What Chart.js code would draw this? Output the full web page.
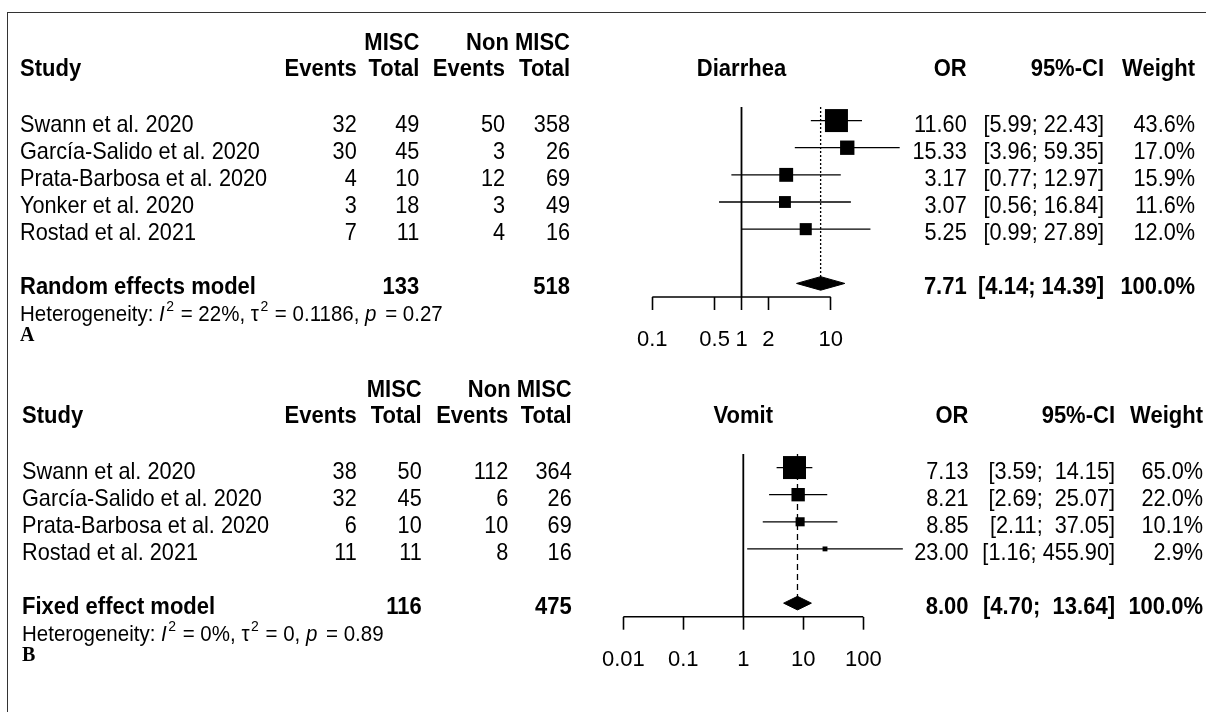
<!DOCTYPE html>
<html>
<head>
<meta charset="utf-8">
<script src="https://cdn.jsdelivr.net/npm/chart.js@4.4.1/dist/chart.umd.min.js"></script>
<style>
  body { margin: 0; background: #fff; }
  #wrap { position: relative; width: 1206px; height: 712px; overflow: hidden; }
  #frame { position: absolute; left: 7px; top: 12px; width: 1210px; height: 710px;
           border-top: 1px solid #333; border-left: 1px solid #333; }
  canvas { position: absolute; left: 0; }
  #chartA { top: 0; }
  #chartB { top: 356px; }
</style>
</head>
<body>
<div id="wrap">
  <div id="frame"></div>
  <canvas id="chartA" width="1206" height="356"></canvas>
  <canvas id="chartB" width="1206" height="356"></canvas>
</div>
<script>
// ---- panel A : diarrhea ----
var studiesA = ["Swann et al. 2020", "García-Salido et al. 2020", "Prata-Barbosa et al. 2020", "Yonker et al. 2020", "Rostad et al. 2021"];
var miscEventsA = [32, 30, 4, 3, 7];
var miscTotalA = [49, 45, 10, 18, 11];
var nonEventsA = [50, 3, 12, 3, 4];
var nonTotalA = [358, 26, 69, 49, 16];
var orA = [11.60, 15.33, 3.17, 3.07, 5.25];
var lowerA = [5.99, 3.96, 0.77, 0.56, 0.99];
var upperA = [22.43, 59.35, 12.97, 16.84, 27.89];
var weightA = [43.6, 17.0, 15.9, 11.6, 12.0];
var pooledA = [7.71, 4.14, 14.39];   // OR, lower, upper
var totalsA = [133, 518];
var ticksA = [0.1, 0.5, 1, 2, 10];
var hetA = ["22%", "0.1186", "0.27"]; // I2, tau2, p

// ---- panel B : vomit ----
var studiesB = ["Swann et al. 2020", "García-Salido et al. 2020", "Prata-Barbosa et al. 2020", "Rostad et al. 2021"];
var miscEventsB = [38, 32, 6, 11];
var miscTotalB = [50, 45, 10, 11];
var nonEventsB = [112, 6, 10, 8];
var nonTotalB = [364, 26, 69, 16];
var orB = [7.13, 8.21, 8.85, 23.00];
var lowerB = [3.59, 2.69, 2.11, 1.16];
var upperB = [14.15, 25.07, 37.05, 455.90];
var weightB = [65.0, 22.0, 10.1, 2.9];
var pooledB = [8.00, 4.70, 13.64];
var totalsB = [116, 475];
var ticksB = [0.01, 0.1, 1, 10, 100];
var hetB = ["0%", "0", "0.89"];

var FONT = '"Liberation Sans", Arial, sans-serif';
var SERIF = '"Liberation Serif", "Times New Roman", serif';
var STRETCH = 1.06; // reference glyphs are a bit taller than wide

function ciText(lo, hi, w) {
    return '[' + lo.toFixed(2) + '; ' + hi.toFixed(2).padStart(w, ' ') + ']';
}

function tablePlugin(p, L) {
    return {
        id: 'forestTable',
        afterDraw: function(chart) {
            var ctx = chart.ctx;
            var ys = chart.scales.y, xs = chart.scales.x;
            var n = p.studies.length;
            var row = function(i) { return ys.getPixelForValue(i); };
            var put = function(t, x, y, align) {
                ctx.save();
                ctx.textAlign = align;
                ctx.translate(x, y);
                ctx.scale(1, STRETCH);
                ctx.fillText(t, 0, 0);
                ctx.restore();
            };
            var w = Math.max.apply(null, p.upper.concat([p.pooled[2]]).map(function(v) { return v.toFixed(2).length; }));
            ctx.save();
            ctx.fillStyle = '#000';
            ctx.textBaseline = 'alphabetic';

            // headers
            var hy = row(0) - 44.5, gy = row(0) - 70.8;
            ctx.font = 'bold 22px ' + FONT;
            put('MISC', L.cols[1], gy, 'right');
            put('Non MISC', L.cols[3], gy, 'right');
            put('Study', L.studyX, hy, 'left');
            put('Events', L.cols[0], hy, 'right');
            put('Total', L.cols[1], hy, 'right');
            put('Events', L.cols[2], hy, 'right');
            put('Total', L.cols[3], hy, 'right');
            put(p.title, xs.getPixelForValue(1), hy, 'center');
            put('OR', L.orX, hy, 'right');
            put('95%-CI', L.ciX, hy, 'right');
            put('Weight', L.wX, hy, 'right');

            // study rows
            ctx.font = '21.7px ' + FONT;
            for (var i = 0; i < n; i++) {
                var y = row(i) + 11;
                put(p.studies[i], L.studyX, y, 'left');
                put(String(p.miscEvents[i]), L.cols[0], y, 'right');
                put(String(p.miscTotal[i]), L.cols[1], y, 'right');
                put(String(p.nonEvents[i]), L.cols[2], y, 'right');
                put(String(p.nonTotal[i]), L.cols[3], y, 'right');
                put(p.or[i].toFixed(2), L.orX, y, 'right');
                put(ciText(p.lower[i], p.upper[i], w), L.ciX, y, 'right');
                put(p.weight[i].toFixed(1) + '%', L.wX, y, 'right');
            }

            // pooled row
            var sy = row(n + 1) + 11;
            ctx.font = 'bold 22px ' + FONT;
            put(p.model, L.studyX, sy, 'left');
            put(String(p.totals[0]), L.cols[1], sy, 'right');
            put(String(p.totals[1]), L.cols[3], sy, 'right');
            put(p.pooled[0].toFixed(2), L.orX, sy, 'right');
            put(ciText(p.pooled[1], p.pooled[2], w), L.ciX, sy, 'right');
            put('100.0%', L.wX, sy, 'right');

            // heterogeneity line
            var hyy = sy + 27;
            var segs = [
                ['Heterogeneity: ', ''], ['I', 'italic '], ['2', 'sup'], [' = ' + p.het[0] + ', ', ''],
                ['\u03c4', ''], ['2', 'sup'], [' = ' + p.het[1] + ', ', ''], ['p', 'italic '], [' = ' + p.het[2], '']
            ];
            var x = L.studyX;
            segs.forEach(function(s) {
                if (s[1] === 'sup') {
                    ctx.font = '14px ' + FONT;
                    put(s[0], x + 1.5, hyy - 10, 'left');
                    x += ctx.measureText(s[0]).width + 2.5;
                } else {
                    ctx.font = s[1] + '20.5px ' + FONT;
                    put(s[0], x, hyy, 'left');
                    x += ctx.measureText(s[0]).width + (s[0] === 'p' ? 3 : 0);
                }
            });

            // panel letter
            ctx.font = 'bold 20px ' + SERIF;
            put(p.letter, L.studyX, sy + 47, 'left');
            ctx.restore();
        }
    };
}

function makeForest(id, p, L) {
    var n = p.studies.length;
    var sumRow = n + 1;
    var wmax = Math.max.apply(null, p.weight);
    var h = 0.25; // diamond half height in rows
    var lo = p.ticks[0], hi = p.ticks[p.ticks.length - 1];
    var datasets = [];

    // pooled diamond
    datasets.push({
        data: [{x: p.pooled[1], y: sumRow}, {x: p.pooled[0], y: sumRow - h}, {x: p.pooled[2], y: sumRow},
               {x: p.pooled[0], y: sumRow + h}, {x: p.pooled[1], y: sumRow}],
        showLine: true, fill: 'shape', backgroundColor: '#000', borderColor: '#000',
        borderWidth: 1, pointRadius: 0, tension: 0, clip: false
    });
    // study boxes, area by weight
    datasets.push({
        data: p.or.map(function(v, i) { return {x: v, y: i}; }),
        showLine: false, pointStyle: 'rect',
        pointRadius: p.weight.map(function(v) { return 23 * Math.sqrt(v / wmax) / Math.SQRT2; }),
        pointBackgroundColor: '#000', pointBorderWidth: 0, clip: false
    });
    // confidence intervals
    for (var i = 0; i < n; i++) {
        datasets.push({
            data: [{x: p.lower[i], y: i}, {x: p.upper[i], y: i}],
            showLine: true, borderColor: '#000', borderWidth: 1.3, pointRadius: 0, clip: false
        });
    }
    // pooled estimate line
    datasets.push({
        data: [{x: p.pooled[0], y: -0.5}, {x: p.pooled[0], y: sumRow}],
        showLine: true, borderColor: '#000', borderWidth: 1.3, borderDash: L.dash, pointRadius: 0, clip: false
    });
    // no effect line
    datasets.push({
        data: [{x: 1, y: -0.5}, {x: 1, y: sumRow + 0.5}],
        showLine: true, borderColor: '#000', borderWidth: 1.8, pointRadius: 0, clip: false
    });
    // axis line, only over the labelled range
    datasets.push({
        data: [{x: lo, y: sumRow + 0.5}, {x: hi, y: sumRow + 0.5}],
        showLine: true, borderColor: '#000', borderWidth: 1.6, pointRadius: 0, clip: false
    });

    return new Chart(document.getElementById(id).getContext('2d'), {
        type: 'scatter',
        data: {datasets: datasets},
        options: {
            responsive: false,
            animation: false,
            devicePixelRatio: 1,
            events: [],
            layout: {padding: L.padding},
            plugins: {legend: {display: false}, tooltip: {enabled: false}},
            scales: {
                x: {
                    type: 'logarithmic',
                    min: lo,
                    max: L.xmax,
                    afterBuildTicks: function(scale) {
                        scale.ticks = p.ticks.map(function(v) { return {value: v}; });
                    },
                    afterFit: function(scale) { scale.height = 50; },
                    ticks: {
                        callback: function(v) { return String(v); },
                        autoSkip: false, maxRotation: 0, padding: 17,
                        color: '#000', font: {family: FONT, size: 22}
                    },
                    grid: {drawOnChartArea: false, drawTicks: true, tickLength: 13, tickColor: '#000', tickWidth: 1.6},
                    border: {display: false}
                },
                y: {type: 'linear', min: -0.5, max: sumRow + 0.5, reverse: true, display: false}
            }
        },
        plugins: [tablePlugin(p, L)]
    });
}

var panelA = {
    title: 'Diarrhea', model: 'Random effects model', letter: 'A',
    studies: studiesA, miscEvents: miscEventsA, miscTotal: miscTotalA, nonEvents: nonEventsA, nonTotal: nonTotalA,
    or: orA, lower: lowerA, upper: upperA, weight: weightA, pooled: pooledA, totals: totalsA, ticks: ticksA, het: hetA
};
var panelB = {
    title: 'Vomit', model: 'Fixed effect model', letter: 'B',
    studies: studiesB, miscEvents: miscEventsB, miscTotal: miscTotalB, nonEvents: nonEventsB, nonTotal: nonTotalB,
    or: orB, lower: lowerB, upper: upperB, weight: weightB, pooled: pooledB, totals: totalsB, ticks: ticksB, het: hetB
};

// 0.1..100 over 3 decades of 89.2 px, 0.01..1000 over 5 decades of 60 px
var chartA = makeForest('chartA', panelA, {
    xmax: 100,
    padding: {left: 652.3, right: 1206 - 919.9, top: 107, bottom: 356 - 297 - 50},
    studyX: 20, cols: [356.7, 419.3, 505, 570], orX: 966.7, ciX: 1104, wX: 1195, dash: [2, 2]
});
var chartB = makeForest('chartB', panelB, {
    xmax: 1000,
    padding: {left: 623.3, right: 1206 - 923.3, top: 98, bottom: 356 - 260.7 - 50},
    studyX: 22, cols: [356.7, 421.7, 508.3, 571.7], orX: 968.5, ciX: 1115, wX: 1203, dash: [6, 4]
});
</script>
</body>
</html>
